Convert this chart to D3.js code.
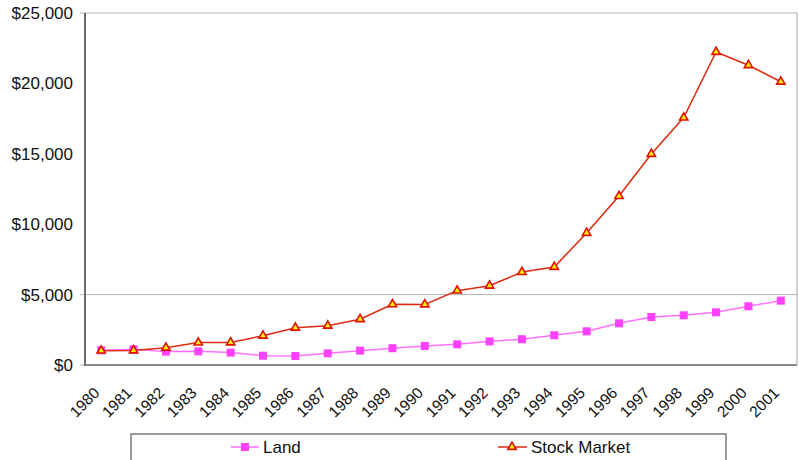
<!DOCTYPE html>
<html><head><meta charset="utf-8">
<script src="https://cdn.jsdelivr.net/npm/d3@7"></script>
<style>body{margin:0;background:#fff}svg{display:block;font-family:"Liberation Sans",Arial,sans-serif}</style>
</head><body>
<svg id="c" width="799" height="460"></svg>
<script>
const years = ["1980","1981","1982","1983","1984","1985","1986","1987","1988","1989","1990","1991","1992","1993","1994","1995","1996","1997","1998","1999","2000","2001"];
const land = [1040,1110,950,970,880,660,640,830,1020,1190,1350,1470,1680,1830,2110,2390,2960,3410,3530,3740,4170,4570];
const stock = [1020,1030,1230,1590,1600,2080,2650,2790,3250,4310,4300,5280,5630,6600,6960,9380,12000,14990,17570,22230,21290,20120];
const yTicks = [0,5000,10000,15000,20000,25000];
const gridVals = [0,5000,25000];
const seriesNames = ["Land","Stock Market"];

const svg = d3.select("#c");
const L=85,R=797,T=13,B=365;
const FS=17, FX=15.5;
const x = d3.scaleBand().domain(years).range([L,R]);
const y = d3.scaleLinear().domain([0,25000]).range([B,T]);
const cx = d => x(d)+x.bandwidth()/2;
const fmt = v => "$"+d3.format(",")(v);

// gridlines
svg.append("g").selectAll("line").data(gridVals).join("line")
  .attr("x1",L-5).attr("x2",R).attr("y1",d=>y(d)).attr("y2",d=>y(d))
  .attr("stroke","#b4b4b4").attr("stroke-width",1);
// right border
svg.append("line").attr("x1",R).attr("x2",R).attr("y1",T).attr("y2",B).attr("stroke","#a0a0a0");
// y labels
svg.append("g").selectAll("text").data(yTicks).join("text")
  .attr("x",73).attr("y",d=>y(d)).attr("dy","0.35em").attr("text-anchor","end")
  .attr("font-size",FS).attr("fill","#111").text(fmt);
// axes lines
svg.append("line").attr("x1",L).attr("x2",L).attr("y1",T).attr("y2",B+1).attr("stroke","#6a6a6a").attr("stroke-width",2);
svg.append("line").attr("x1",L).attr("x2",R).attr("y1",B).attr("y2",B).attr("stroke","#8a8a8a").attr("stroke-width",2);
// x labels
svg.append("g").selectAll("text").data(years).join("text")
  .attr("transform",d=>`translate(${cx(d)-4.5},${B+25}) rotate(-45)`)
  .attr("text-anchor","end").attr("dy","0.35em").attr("font-size",FX).attr("fill","#111").text(d=>d);

const line = d3.line().x((d,i)=>cx(years[i])).y(d=>y(d));
svg.append("path").datum(land).attr("d",line).attr("fill","none").attr("stroke","#ff70ff").attr("stroke-width",1.5);
svg.append("path").datum(stock).attr("d",line).attr("fill","none").attr("stroke","#dd2a10").attr("stroke-width",1.5);

svg.append("g").selectAll("rect").data(land).join("rect")
  .attr("x",(d,i)=>cx(years[i])-4).attr("y",d=>y(d)-4).attr("width",8).attr("height",8)
  .attr("fill","#ff40ff");
const tri = d3.symbol().type(d3.symbolTriangle).size(30);
svg.append("g").selectAll("path").data(stock).join("path")
  .attr("transform",(d,i)=>`translate(${cx(years[i])},${y(d)})`)
  .attr("d",tri).attr("fill","#ffee00").attr("stroke","#dd1100").attr("stroke-width",1.6);

// legend
svg.append("rect").attr("x",131).attr("y",434).attr("width",595).attr("height",40)
  .attr("fill","none").attr("stroke","#555").attr("stroke-width",1.2);
const lg = svg.append("g");
lg.append("line").attr("x1",231).attr("x2",259).attr("y1",447).attr("y2",447).attr("stroke","#ff70ff").attr("stroke-width",1.5);
lg.append("rect").attr("x",241).attr("y",443).attr("width",8).attr("height",8).attr("fill","#ff40ff");
lg.append("text").attr("x",263).attr("y",453).attr("font-size",FS).attr("fill","#111").text(seriesNames[0]);
lg.append("line").attr("x1",498).attr("x2",527).attr("y1",447).attr("y2",447).attr("stroke","#dd2a10").attr("stroke-width",1.5);
lg.append("path").attr("transform","translate(512,447)").attr("d",tri).attr("fill","#ffee00").attr("stroke","#dd1100").attr("stroke-width",1.6);
lg.append("text").attr("x",531).attr("y",453).attr("font-size",FS).attr("fill","#111").text(seriesNames[1]);
</script>
</body></html>
